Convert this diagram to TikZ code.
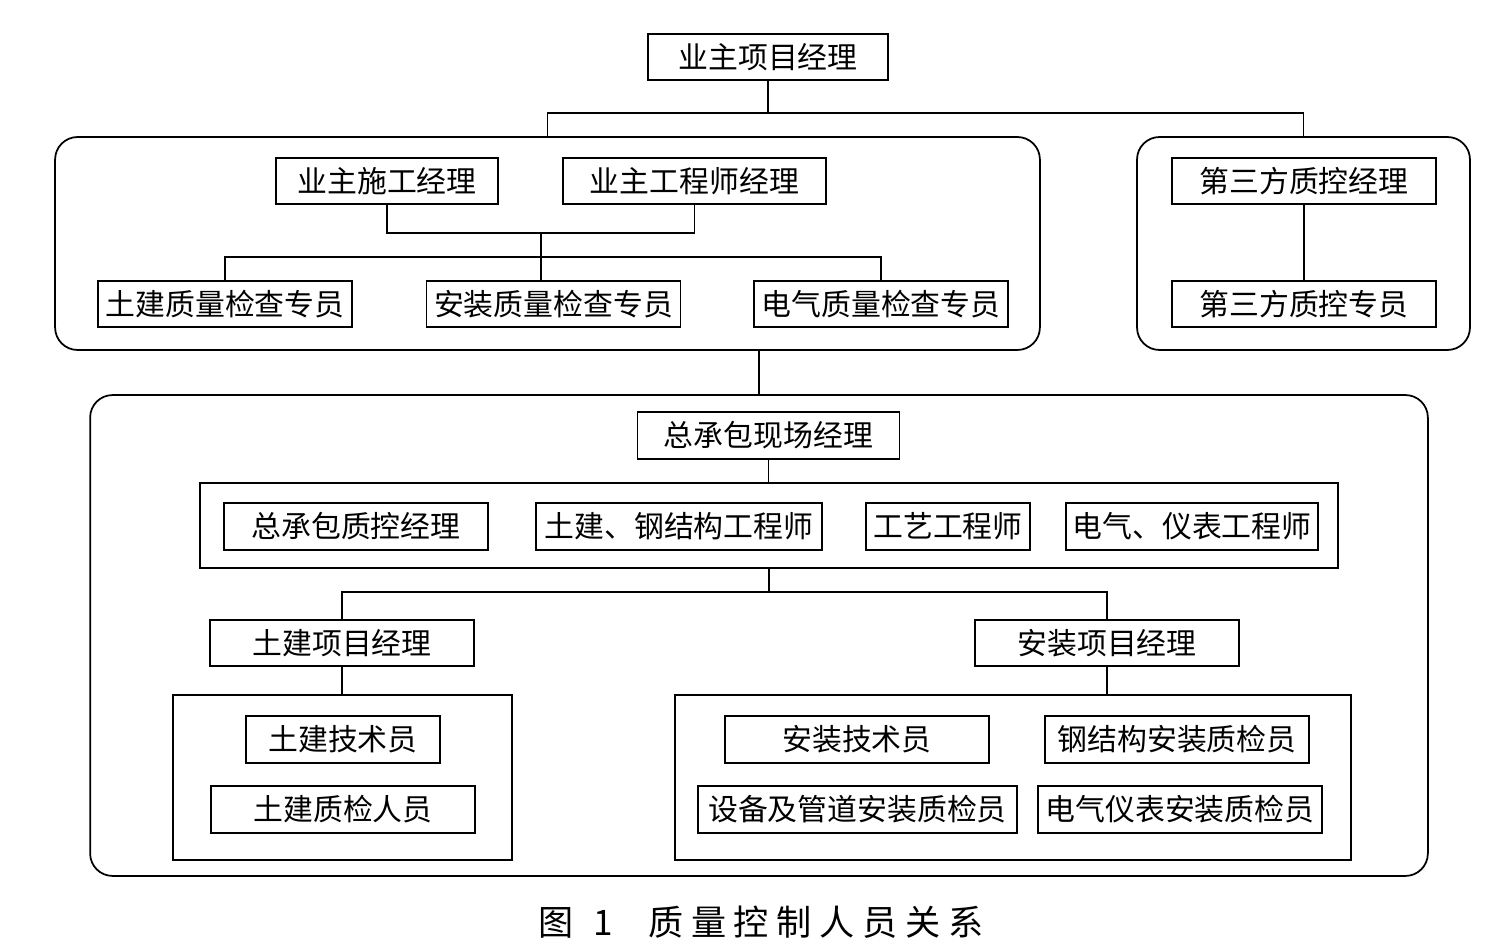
\documentclass[tikz,border=0pt]{standalone}
\usepackage{fontspec}
\setmainfont{Noto Sans CJK SC}
\newfontfamily\capfont[LetterSpace=22]{Noto Sans CJK SC}
\usepackage{tikz}

\begin{document}
\begin{tikzpicture}[x=0.02cm, y=-0.02cm,
    box/.style={draw, line width=1pt, minimum height=0.93cm, inner sep=0pt,
        font=\fontsize{17}{20}\selectfont},
    group/.style={draw, line width=1pt, rounded corners=0.45cm, inner sep=0pt},
    frame/.style={draw, line width=1pt, inner sep=0pt},
    link/.style={line width=1pt}]

\useasboundingbox (0,0) rectangle (1512,952);

% Owner side
\node [box, minimum width=4.8cm] (pm) at (768,57) {业主项目经理};
\node [group, minimum width=19.7cm, minimum height=4.26cm] (ownerbox) at (547.5,243.5) {};
\node [group, minimum width=6.66cm, minimum height=4.26cm] (thirdbox) at (1303.5,243.5) {};

\node [box, minimum width=4.44cm] (cm) at (387,181) {业主施工经理};
\node [box, minimum width=5.26cm] (em) at (694.5,181) {业主工程师经理};
\node [box, minimum width=5.08cm] (civq) at (225,304) {土建质量检查专员};
\node [box, minimum width=5.08cm] (instq) at (553.5,304) {安装质量检查专员};
\node [box, minimum width=5.08cm] (elecq) at (881,304) {电气质量检查专员};

% Third party
\node [box, minimum width=5.28cm] (tqm) at (1304,181) {第三方质控经理};
\node [box, minimum width=5.28cm] (tqs) at (1304,304) {第三方质控专员};

% Contractor side
\node [group, minimum width=26.76cm, minimum height=9.62cm] (bigbox) at (759,635.5) {};
\node [box, minimum width=5.24cm] (sitepm) at (768.5,435.5) {总承包现场经理};
\node [frame, minimum width=22.76cm, minimum height=1.7cm] (engrow) at (769,525.5) {};
\node [box, minimum width=5.28cm] (qcm) at (356,526.5) {总承包质控经理};
\node [box, minimum width=5.72cm] (csen) at (679,526.5) {土建、钢结构工程师};
\node [box, minimum width=3.28cm] (proc) at (948,526.5) {工艺工程师};
\node [box, minimum width=5.04cm] (eien) at (1192,526.5) {电气、仪表工程师};

\node [box, minimum width=5.28cm] (civpm) at (342,643) {土建项目经理};
\node [box, minimum width=5.28cm] (inspm) at (1107,643) {安装项目经理};

\node [frame, minimum width=6.78cm, minimum height=3.3cm] (civbox) at (342.5,777.5) {};
\node [box, minimum width=3.88cm] (civtech) at (343,739.5) {土建技术员};
\node [box, minimum width=5.28cm] (civqi) at (343,809.5) {土建质检人员};

\node [frame, minimum width=13.52cm, minimum height=3.3cm] (insbox) at (1013,777.5) {};
\node [box, minimum width=5.28cm] (instech) at (857,739.5) {安装技术员};
\node [box, minimum width=5.28cm] (steelqi) at (1177,739.5) {钢结构安装质检员};
\node [box, minimum width=6.38cm] (pipeqi) at (857.5,809.5) {设备及管道安装质检员};
\node [box, minimum width=5.68cm] (eiqi) at (1180,809.5) {电气仪表安装质检员};

% Caption
\node [font=\capfont\fontsize{20}{23}\selectfont] (caption) at (761,922)
    {图\hspace{0.4cm}1\hspace{0.7cm}质量控制人员关系};

% Connectors
\coordinate (pmsplit) at (768,113);
\draw [link] (pm.south) -- (pmsplit);
\draw [link] (ownerbox.north) |- (pmsplit) -| (thirdbox.north);

\coordinate (ownjoin) at (541,233);
\coordinate (ownbus) at (541,257);
\draw [link] (cm.south) |- (ownjoin) -| (em.south);
\draw [link] (ownjoin) -- (ownbus);
\draw [link] (civq.north) |- (ownbus) -| (elecq.north);
\draw [link] (ownbus) -- (ownbus |- instq.north);

\draw [link] (tqm.south) -- (tqs.north);

\draw [link] (ownerbox.south -| bigbox.north) -- (bigbox.north);
\draw [link] (sitepm.south) -- (sitepm.south |- engrow.north);

\coordinate (cbus) at (769,592);
\draw [link] (engrow.south) -- (cbus);
\draw [link] (civpm.north) |- (cbus) -| (inspm.north);

\draw [link] (civpm.south) -- (civpm.south |- civbox.north);
\draw [link] (inspm.south) -- (inspm.south |- insbox.north);

\end{tikzpicture}
\end{document}
